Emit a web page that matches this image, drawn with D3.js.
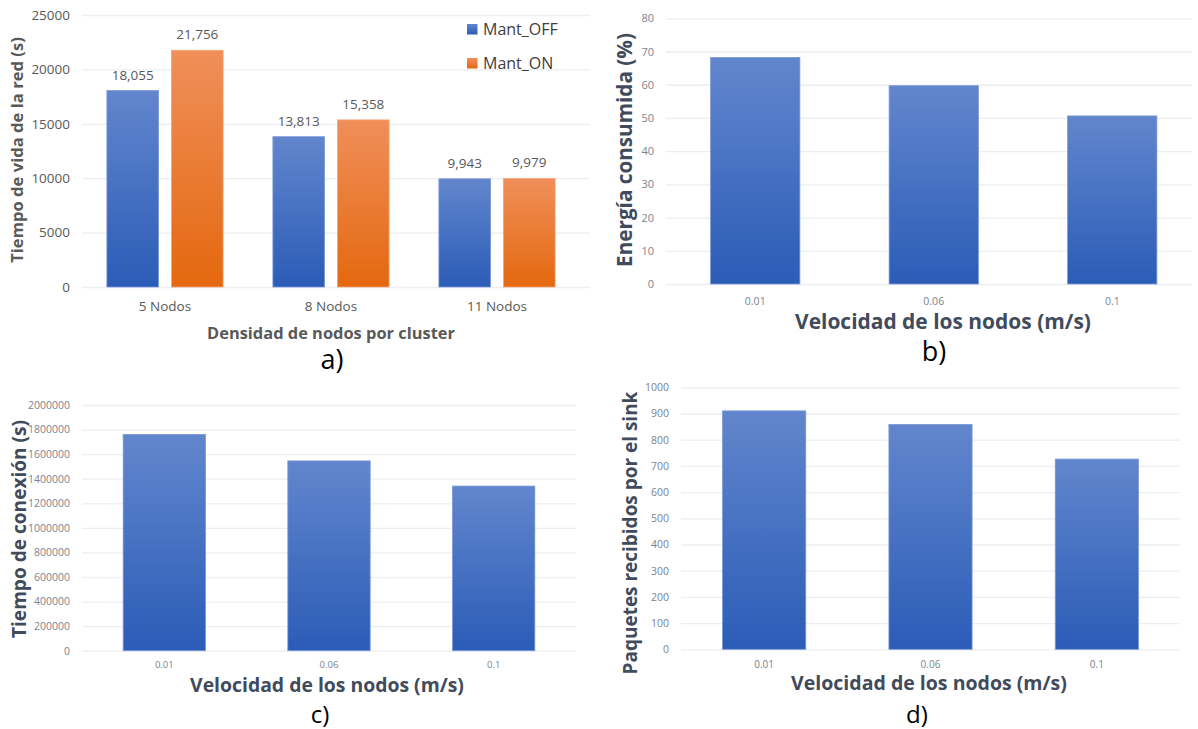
<!DOCTYPE html>
<html><head><meta charset="utf-8">
<script src="https://cdn.jsdelivr.net/npm/d3@7"></script>
<style>
html,body{margin:0;padding:0;background:#fff;}
svg{display:block;}
text{font-family:"Open Sans","Noto Sans",sans-serif;}
</style></head>
<body>
<svg id="fig" width="1198" height="729"></svg>
<script>
// ---------- DATA ----------
const densityCats = ["5 Nodos", "8 Nodos", "11 Nodos"];
const seriesNames = ["Mant_OFF", "Mant_ON"];
const lifetimeOff = [18055, 13813, 9943];
const lifetimeOn  = [21756, 15358, 9979];
const lifetimeTicks = [0, 5000, 10000, 15000, 20000, 25000];

const speedCats = ["0.01", "0.06", "0.1"];
const energyValues = [68.2, 59.7, 50.6];
const energyTicks = [0, 10, 20, 30, 40, 50, 60, 70, 80];
const connValues = [1760000, 1545000, 1340000];
const connTicks = [0, 200000, 400000, 600000, 800000, 1000000, 1200000, 1400000, 1600000, 1800000, 2000000];
const packetValues = [910, 858, 726];
const packetTicks = [0, 100, 200, 300, 400, 500, 600, 700, 800, 900, 1000];

// ---------- SETUP ----------
const svg = d3.select("#fig");
const defs = svg.append("defs");
function grad(id, top, bottom){
  const g = defs.append("linearGradient").attr("id", id)
    .attr("x1",0).attr("y1",0).attr("x2",0).attr("y2",1);
  g.append("stop").attr("offset","0%").attr("stop-color",top);
  g.append("stop").attr("offset","100%").attr("stop-color",bottom);
}
grad("gBlue", "#6286cd", "#2b5cb7");
grad("gOrange", "#f08f5a", "#e4680f");

const GRID = "#eceef3";

function fitText(sel, target){
  const n = sel.node();
  const s = parseFloat(sel.attr("font-size"));
  const w = n.getComputedTextLength();
  if (w > 0) sel.attr("font-size", (s * target / w).toFixed(2));
}

function yAxis(g, y, ticks, x0, x1, fs, color, fmt){
  const ax = g.append("g").attr("transform", `translate(${x0},0)`)
    .call(d3.axisLeft(y).tickValues(ticks).tickSize(-(x1 - x0)).tickPadding(12).tickFormat(fmt || d3.format("d")));
  ax.select(".domain").remove();
  ax.selectAll(".tick line").attr("stroke", GRID).attr("stroke-width", 1.3);
  ax.selectAll(".tick text").attr("fill", color).attr("font-size", fs)
    .attr("font-family", "Lato, 'Open Sans', sans-serif");
  return ax;
}

function xAxis(g, x, yPos, fs, color){
  const ax = g.append("g").attr("transform", `translate(0,${yPos})`)
    .call(d3.axisBottom(x).tickSize(0).tickPadding(0));
  ax.select(".domain").remove();
  ax.selectAll(".tick text").attr("fill", color).attr("font-size", fs)
    .attr("font-family", "Lato, 'Open Sans', sans-serif").attr("dy", "0.35em");
  return ax;
}

function label(txt, x, y, size){
  svg.append("text").attr("x", x).attr("y", y).attr("text-anchor","middle")
    .attr("font-family","Arial, 'Liberation Sans', sans-serif")
    .attr("font-size", size).attr("fill","#000").text(txt);
}

// ---------- PANEL A ----------
(function(){
  const g = svg.append("g");
  const y = d3.scaleLinear().domain([0, 25000]).range([287, 15]);
  const x0 = d3.scaleBand().domain(densityCats).range([82, 580]).paddingInner(0.3).paddingOuter(0.15);
  const x1 = d3.scaleBand().domain(seriesNames).range([0, x0.bandwidth()]).paddingInner(0.2);
  yAxis(g, y, lifetimeTicks, 82, 590, 13.5, "#595959");
  const rows = densityCats.map((c,i)=>({cat:c, vals:[{s:"Mant_OFF", v:lifetimeOff[i]},{s:"Mant_ON", v:lifetimeOn[i]}]}));
  const grp = g.selectAll(".grp").data(rows).join("g").attr("transform", d=>`translate(${x0(d.cat)},0)`);
  grp.selectAll("rect").data(d=>d.vals).join("rect")
    .attr("x", d=>x1(d.s)).attr("width", x1.bandwidth())
    .attr("y", d=>y(d.v)).attr("height", d=>y(0)-y(d.v))
    .attr("fill", d=> d.s==="Mant_OFF" ? "url(#gBlue)" : "url(#gOrange)")
    .attr("stroke", d=> d.s==="Mant_OFF" ? "#7896d6" : "#f4a577").attr("stroke-width", 0.8);
  grp.selectAll("text.val").data(d=>d.vals).join("text").attr("class","val")
    .attr("x", d=>x1(d.s)+x1.bandwidth()/2).attr("y", d=>y(d.v)-11)
    .attr("text-anchor","middle").attr("font-size",13.5).attr("fill","#595959")
    .attr("font-family","Lato, 'Open Sans', sans-serif")
    .text(d=>d3.format(",")(d.v));
  xAxis(g, x0, 306, 13.5, "#595959");
  // legend
  const lg = g.append("g");
  seriesNames.forEach((s,i)=>{
    lg.append("rect").attr("x",467).attr("y",24+i*34).attr("width",10.5).attr("height",10.5)
      .attr("fill", i===0 ? "url(#gBlue)" : "url(#gOrange)");
    lg.append("text").attr("x",483).attr("y",29+i*34).attr("dy","0.35em")
      .attr("font-size",16).attr("fill","#404040").text(s);
  });
  const yt = g.append("text").attr("transform","translate(17,150) rotate(-90)")
    .attr("text-anchor","middle").attr("dy","0.35em").attr("font-weight",700)
    .attr("font-size",16).attr("fill","#595959").text("Tiempo de vida de la red (s)");
  fitText(yt, 226);
  const xt = g.append("text").attr("x",331).attr("y",333).attr("dy","0.35em")
    .attr("text-anchor","middle").attr("font-weight",700).attr("font-size",16)
    .attr("fill","#595959").text("Densidad de nodos por cluster");
  fitText(xt, 248);
  label("a)", 332, 369, 27);
})();

// ---------- generic single-series panel ----------
function singlePanel(o){
  const g = svg.append("g");
  const y = d3.scaleLinear().domain(o.domain).range([o.yBottom, o.yTop]);
  const x = d3.scaleBand().domain(speedCats).range(o.xRange).paddingInner(0.5).paddingOuter(0.25);
  yAxis(g, y, o.ticks, o.gridLeft, o.gridRight, o.tickFs, "#7b8391");
  g.selectAll("rect.bar").data(o.values).join("rect").attr("class","bar")
    .attr("x",(d,i)=>x(speedCats[i])).attr("width",x.bandwidth())
    .attr("y",d=>y(d)).attr("height",d=>y(0)-y(d))
    .attr("fill","url(#gBlue)").attr("stroke","#7896d6").attr("stroke-width",0.8);
  xAxis(g, x, o.xLabelY, o.xFs, "#7b8391");
  const yt = g.append("text").attr("transform",`translate(${o.yTitleX},${o.yTitleY}) rotate(-90)`)
    .attr("text-anchor","middle").attr("dy","0.35em").attr("font-weight",700)
    .attr("font-size",20).attr("fill","#414b5b").text(o.yTitle);
  fitText(yt, o.yTitleW);
  const xt = g.append("text").attr("x",o.xTitleX).attr("y",o.xTitleY).attr("dy","0.35em")
    .attr("text-anchor","middle").attr("font-weight",700).attr("font-size",20)
    .attr("fill","#414b5b").text("Velocidad de los nodos (m/s)");
  fitText(xt, o.xTitleW);
  label(o.tag, o.tagX, o.tagY, o.tagSize || 27);
}

// ---------- PANEL B ----------
singlePanel({
  domain:[0,80], yBottom:284, yTop:18.3, xRange:[666,1201.5], ticks:energyTicks,
  values:energyValues, gridLeft:666, gridRight:1192, tickFs:11, xLabelY:301, xFs:10.5,
  yTitle:"Energía consumida (%)", yTitleX:625, yTitleY:150, yTitleW:234,
  xTitleX:943, xTitleY:322, xTitleW:296, tag:"b)", tagX:934, tagY:361
});

// ---------- PANEL C ----------
singlePanel({
  domain:[0,2000000], yBottom:650.7, yTop:405, xRange:[82,576], ticks:connTicks,
  values:connValues, gridLeft:82, gridRight:576, tickFs:10.5, xLabelY:665, xFs:9.5,
  yTitle:"Tiempo de conexión (s)", yTitleX:19, yTitleY:529, yTitleW:218,
  xTitleX:327, xTitleY:685, xTitleW:274, tag:"c)", tagX:320, tagY:723, tagSize:24
});

// ---------- PANEL D ----------
singlePanel({
  domain:[0,1000], yBottom:649.3, yTop:387.3, xRange:[681,1180], ticks:packetTicks,
  values:packetValues, gridLeft:681, gridRight:1180, tickFs:10.5, xLabelY:664, xFs:10,
  yTitle:"Paquetes recibidos por el sink", yTitleX:630, yTitleY:533, yTitleW:283,
  xTitleX:929, xTitleY:683, xTitleW:276, tag:"d)", tagX:917, tagY:723, tagSize:24
});
</script>
</body></html>
